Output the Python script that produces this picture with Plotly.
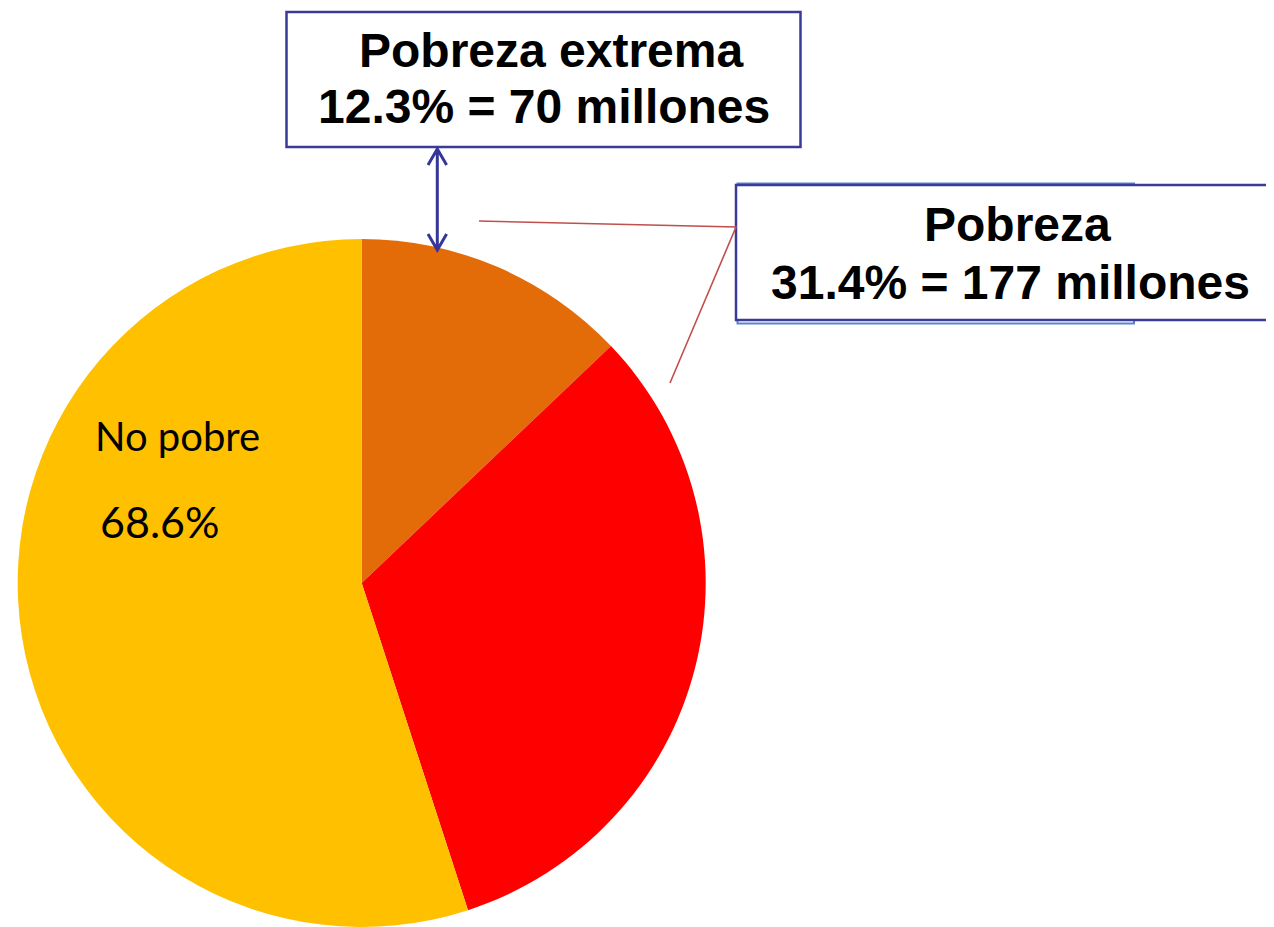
import plotly.graph_objects as go

categorias = ['Pobreza extrema', 'Pobreza no extrema', 'No pobre']
valores = [12.9, 32.1, 55.0]
colores = ['#E36C09', '#FF0000', '#FFC000']

texto_extrema = ['Pobreza extrema', '12.3% = 70 millones']
texto_pobreza = ['Pobreza', '31.4% = 177 millones']
texto_no_pobre = ['No pobre', '68.6%']

# la página deja 8px de margen en el body, así que la figura se achica
OFF = 8
W, H = 1274 - OFF, 927 - OFF


def px(x):
    return (x - OFF) / W


def py(y):
    return 1 - (y - OFF) / H


fig = go.Figure()

# torta principal
fig.add_trace(go.Pie(
    labels=categorias,
    values=valores,
    marker=dict(colors=colores, line=dict(width=0)),
    sort=False,
    direction='clockwise',
    rotation=0,
    textinfo='none',
    hoverinfo='label+percent',
    showlegend=False,
    domain=dict(x=[px(17.7), px(705.7)], y=[0, py(239)]),
))

shapes = []
annotations = []

# recuadro pobreza extrema
shapes.append(dict(type='rect', xref='paper', yref='paper',
                   x0=px(286.5), x1=px(800.5), y0=py(12), y1=py(147),
                   line=dict(color='#3A3A98', width=2.5), fillcolor='white'))

# recuadro pobreza (con el borde celeste detrás)
shapes.append(dict(type='rect', xref='paper', yref='paper',
                   x0=px(737.5), x1=px(1134), y0=py(183.5), y1=py(323.5),
                   line=dict(color='#5B84C8', width=2), fillcolor='white'))
shapes.append(dict(type='rect', xref='paper', yref='paper',
                   x0=px(736), x1=px(1300), y0=py(185), y1=py(320),
                   line=dict(color='#3A3A98', width=2.5), fillcolor='white'))

# línea guía roja hacia la porción de pobreza
shapes.append(dict(type='path', xref='paper', yref='paper',
                   path='M {} {} L {} {} L {} {}'.format(px(479), py(221), px(736), py(227), px(670), py(383)),
                   line=dict(color='#C0504D', width=1.6)))

# flecha doble azul entre el recuadro y la torta
flecha = 'M {a} {t} L {a} {b} M {l} {t2} L {a} {t} L {r} {t2} M {l} {b2} L {a} {b} L {r} {b2}'.format(
    a=px(437.3), t=py(149), b=py(250), l=px(428), r=px(446.6), t2=py(165), b2=py(234))
shapes.append(dict(type='path', xref='paper', yref='paper', path=flecha,
                   line=dict(color='#35359A', width=3)))

# textos de los recuadros
fuente_caja = dict(family='Liberation Sans, Arial', size=48, color='black')
for txt, x, y in [(texto_extrema[0], 551, 50), (texto_extrema[1], 544, 107),
                  (texto_pobreza[0], 1017, 224), (texto_pobreza[1], 1010, 282)]:
    annotations.append(dict(text='<b>' + txt + '</b>', xref='paper', yref='paper',
                            x=px(x), y=py(y), xanchor='center', yanchor='middle',
                            showarrow=False, font=fuente_caja))

# etiqueta de no pobres dentro de la torta
for txt, x, y, tam in [(texto_no_pobre[0], 177, 436, 40), (texto_no_pobre[1], 159, 521, 43)]:
    annotations.append(dict(text=txt, xref='paper', yref='paper',
                            x=px(x), y=py(y), xanchor='center', yanchor='middle',
                            showarrow=False, font=dict(family='Lato', size=tam, color='black')))

fig.update_layout(
    width=W,
    height=H,
    margin=dict(l=0, r=0, t=0, b=0),
    paper_bgcolor='white',
    plot_bgcolor='white',
    shapes=shapes,
    annotations=annotations,
)

fig.write_html("out.html")
